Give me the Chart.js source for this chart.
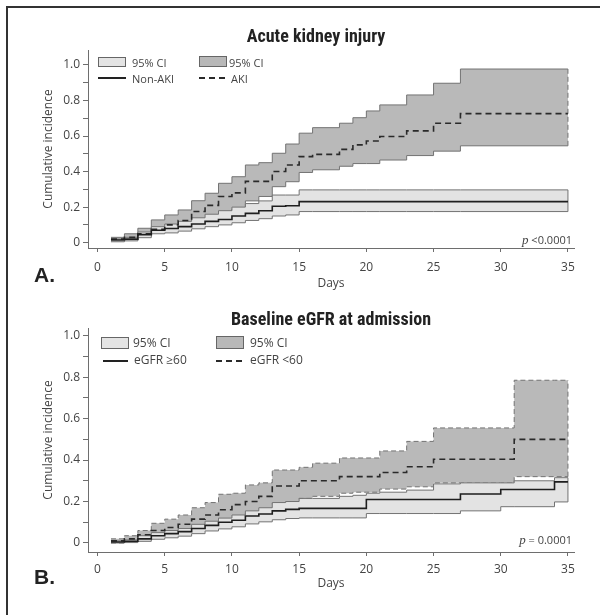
<!DOCTYPE html>
<html>
<head>
<meta charset="utf-8">
<script src="https://cdn.jsdelivr.net/npm/chart.js@4.4.1/dist/chart.umd.min.js"></script>
<style>
  html, body { margin: 0; padding: 0; background: #fff; }
  #page { position: relative; width: 600px; height: 615px; overflow: hidden;
          font-family: 'Open Sans', 'DejaVu Sans', sans-serif; color: #444; }
  .frame-top  { position: absolute; left: 6px; top: 6px; width: 594px; height: 2px; background: #333; }
  .frame-left { position: absolute; left: 6px; top: 6px; width: 2px; height: 609px; background: #333; }
  .cv { position: absolute; left: 0; }
  .ttl { position: absolute; transform: translate(-50%, -50%); white-space: nowrap;
         font-family: 'Liberation Sans Narrow', 'Roboto Condensed', 'Liberation Sans', sans-serif;
         font-weight: bold; font-size: 18px; color: #222; }
  .lbl { position: absolute; transform: translateY(-50%); white-space: nowrap; font-size: 11px; color: #444; line-height: 1; }
  .box { position: absolute; box-sizing: border-box; border: 1px solid #666; }
  .ln  { position: absolute; height: 2px; background: #222; }
  .ln.dash { background: repeating-linear-gradient(90deg, #2a2a2a 0 6px, transparent 6px 10px); }
  .pv  { position: absolute; transform: translate(-100%, -50%); white-space: nowrap; font-size: 11px; color: #444; line-height: 1; }
  .pv i { font-family: 'Liberation Serif', serif; font-size: 13px; }
  .let { position: absolute; transform: translateY(-50%); font-family: 'Liberation Sans', sans-serif;
         font-weight: bold; font-size: 21px; color: #222; line-height: 1; }
</style>
</head>
<body>
<div id="page">
  <div class="frame-top"></div>
  <div class="frame-left"></div>

  <canvas id="cA" class="cv" width="600" height="300" style="top:0"></canvas>
  <canvas id="cB" class="cv" width="600" height="315" style="top:300px"></canvas>

  <!-- painel A -->
  <div class="ttl" style="left:316px; top:35px">Acute kidney injury</div>
  <div class="box" style="left:98px; top:57px; width:28px; height:10px; background:#e4e4e4"></div>
  <div class="lbl" style="left:132px; top:62px">95% CI</div>
  <div class="box" style="left:199px; top:56px; width:28px; height:11px; background:#b8b8b8"></div>
  <div class="lbl" style="left:229px; top:62px">95% CI</div>
  <div class="ln"  style="left:98px; top:77px; width:28px"></div>
  <div class="lbl" style="left:132px; top:78px">Non-AKI</div>
  <div class="ln dash" style="left:199px; top:77px; width:26px"></div>
  <div class="lbl" style="left:231px; top:78px">AKI</div>
  <div class="pv"  style="left:572px; top:239px"><i>p</i> &lt;0.0001</div>
  <div class="let" style="left:34px; top:274px">A.</div>

  <!-- painel B -->
  <div class="ttl" style="left:331px; top:318px">Baseline eGFR at admission</div>
  <div class="box" style="left:101px; top:337px; width:28px; height:12px; background:#e4e4e4"></div>
  <div class="lbl" style="left:133px; top:343px; font-size:12px">95% CI</div>
  <div class="box" style="left:216px; top:336px; width:28px; height:13px; background:#b8b8b8"></div>
  <div class="lbl" style="left:250px; top:343px; font-size:12px">95% CI</div>
  <div class="ln"  style="left:103px; top:360px; width:25px"></div>
  <div class="lbl" style="left:134px; top:360px; font-size:12px">eGFR ≥60</div>
  <div class="ln dash" style="left:216px; top:360px; width:26px"></div>
  <div class="lbl" style="left:250px; top:360px; font-size:12px">eGFR &lt;60</div>
  <div class="pv"  style="left:572px; top:539px"><i>p</i> = 0.0001</div>
  <div class="let" style="left:34px; top:576px">B.</div>
</div>

<script>
/* ── DADOS: PAINEL A (Acute kidney injury) ── */
const daysA      = [1, 2, 3, 4, 5, 6, 7, 8, 9, 10, 11, 12, 13, 14, 15, 16, 18, 19, 20, 21, 23, 25, 27, 35];
const akiUpper   = [0.03, 0.05, 0.081, 0.128, 0.156, 0.184, 0.236, 0.278, 0.334, 0.371, 0.437, 0.45, 0.503, 0.555, 0.616, 0.647, 0.672, 0.703, 0.741, 0.775, 0.831, 0.897, 0.977, 0.977];
const akiMean    = [0.02, 0.03, 0.05, 0.075, 0.1, 0.125, 0.175, 0.21, 0.26, 0.28, 0.345, 0.345, 0.4, 0.437, 0.484, 0.497, 0.525, 0.55, 0.572, 0.597, 0.629, 0.672, 0.726, 0.726];
const akiLower   = [0.008, 0.015, 0.035, 0.06, 0.075, 0.09, 0.115, 0.135, 0.165, 0.19, 0.235, 0.26, 0.315, 0.343, 0.395, 0.41, 0.43, 0.445, 0.445, 0.465, 0.49, 0.515, 0.545, 0.545];
const nonAkiUpper = [0.02, 0.03, 0.06, 0.09, 0.105, 0.12, 0.14, 0.16, 0.18, 0.2, 0.22, 0.235, 0.268, 0.268, 0.297, 0.297, 0.297, 0.297, 0.297, 0.297, 0.297, 0.297, 0.297, 0.297];
const nonAkiMean  = [0.015, 0.02, 0.045, 0.07, 0.08, 0.09, 0.105, 0.12, 0.13, 0.15, 0.165, 0.18, 0.205, 0.208, 0.231, 0.231, 0.231, 0.231, 0.231, 0.231, 0.231, 0.231, 0.231, 0.231];
const nonAkiLower = [0.005, 0.01, 0.028, 0.05, 0.055, 0.065, 0.078, 0.09, 0.1, 0.112, 0.125, 0.135, 0.15, 0.156, 0.175, 0.175, 0.175, 0.175, 0.175, 0.175, 0.175, 0.175, 0.175, 0.175];

/* ── DADOS: PAINEL B (Baseline eGFR at admission) ── */
const daysB       = [1, 2, 3, 4, 5, 6, 7, 8, 9, 10, 11, 12, 13, 14, 15, 16, 18, 19, 20, 21, 23, 25, 27, 30, 31, 34, 35];
const lowGfrUpper = [0.02, 0.035, 0.06, 0.095, 0.115, 0.135, 0.17, 0.195, 0.235, 0.24, 0.28, 0.29, 0.352, 0.352, 0.365, 0.385, 0.41, 0.41, 0.41, 0.444, 0.49, 0.555, 0.555, 0.555, 0.785, 0.785, 0.785];
const lowGfrMean  = [0.01, 0.02, 0.04, 0.06, 0.075, 0.09, 0.115, 0.135, 0.16, 0.185, 0.2, 0.225, 0.275, 0.275, 0.3, 0.3, 0.32, 0.32, 0.32, 0.34, 0.368, 0.404, 0.404, 0.404, 0.5, 0.5, 0.5];
const lowGfrLower = [0.0, 0.005, 0.015, 0.03, 0.045, 0.055, 0.07, 0.085, 0.105, 0.12, 0.145, 0.16, 0.19, 0.2, 0.215, 0.225, 0.24, 0.245, 0.245, 0.26, 0.271, 0.29, 0.29, 0.29, 0.32, 0.32, 0.32];
const hiGfrUpper  = [0.01, 0.015, 0.035, 0.05, 0.06, 0.07, 0.09, 0.105, 0.12, 0.135, 0.155, 0.17, 0.195, 0.2, 0.215, 0.215, 0.225, 0.23, 0.24, 0.245, 0.255, 0.285, 0.29, 0.29, 0.3, 0.315, 0.315];
const hiGfrMean   = [0.005, 0.008, 0.02, 0.035, 0.045, 0.055, 0.07, 0.085, 0.1, 0.11, 0.13, 0.14, 0.155, 0.162, 0.167, 0.167, 0.167, 0.167, 0.21, 0.21, 0.21, 0.21, 0.236, 0.258, 0.258, 0.295, 0.295];
const hiGfrLower  = [0.0, 0.002, 0.008, 0.018, 0.025, 0.033, 0.045, 0.058, 0.068, 0.078, 0.092, 0.102, 0.112, 0.118, 0.121, 0.121, 0.121, 0.121, 0.142, 0.142, 0.142, 0.142, 0.155, 0.175, 0.175, 0.198, 0.198];

/* ── EIXOS ── */
const xTicks = [0, 5, 10, 15, 20, 25, 30, 35];
const yTicks = [0, 0.1, 0.2, 0.3, 0.4, 0.5, 0.6, 0.7, 0.8, 0.9, 1.0];

/* ── HELPERS ── */
const pts  = (days, vals) => days.map((d, i) => ({ x: d, y: vals[i] }));
const last = arr => arr[arr.length - 1];
const edge = (days, lo, hi) => [{ x: last(days), y: last(lo) }, { x: last(days), y: last(hi) }];

const DARK_FILL  = "#b9b9b9";
const LIGHT_FILL = "#e3e3e3";
const EDGE_COLOR = "#737373";
const AXIS_COLOR = "#6e6e6e";
const TEXT_COLOR = "#444";

function montarPainel(canvasId, p) {
  const base = { stepped: true, pointRadius: 0, borderWidth: 1, fill: false };

  const datasets = [
    // 0-1: banda escura (grupo de maior risco)
    { ...base, data: pts(p.days, p.darkUp), borderColor: EDGE_COLOR, borderDash: p.darkDash, order: 2 },
    { ...base, data: pts(p.days, p.darkLo), borderColor: EDGE_COLOR, borderDash: p.darkDash, order: 2,
      fill: { target: 0 }, backgroundColor: DARK_FILL },
    // 2-3: banda clara
    { ...base, data: pts(p.days, p.lightUp), borderColor: EDGE_COLOR, order: 1 },
    { ...base, data: pts(p.days, p.lightLo), borderColor: EDGE_COLOR, order: 1,
      fill: { target: 2 }, backgroundColor: LIGHT_FILL },
    // bordas verticais no fim (dia 35)
    { ...base, stepped: false, data: edge(p.days, p.darkLo, p.darkUp), borderColor: EDGE_COLOR, borderDash: [5, 3], order: 0.5 },
    { ...base, stepped: false, data: edge(p.days, p.lightLo, p.lightUp), borderColor: EDGE_COLOR, order: 0.5 },
    // estimativas
    { ...base, data: pts(p.days, p.lightMean), borderColor: "#1e1e1e", borderWidth: 1.6, order: 0 },
    { ...base, data: pts(p.days, p.darkMean), borderColor: "#2a2a2a", borderWidth: 1.6, borderDash: [6, 4], order: 0 }
  ];

  new Chart(document.getElementById(canvasId), {
    type: "line",
    data: { datasets },
    options: {
      responsive: false,
      animation: false,
      events: [],
      layout: { padding: { top: p.padTop, right: 26, left: 0, bottom: 0 } },
      plugins: { legend: { display: false }, tooltip: { enabled: false }, title: { display: false } },
      scales: {
        x: {
          type: "linear", min: -0.71, max: 35.45,
          afterBuildTicks: s => { s.ticks = xTicks.map(v => ({ value: v })); },
          afterFit: s => { s.height = p.xHeight; },
          ticks: { autoSkip: false, maxRotation: 0, color: TEXT_COLOR, padding: p.xPad,
                   font: { family: "'Open Sans', sans-serif", size: 12 }, callback: v => String(v) },
          grid: { drawOnChartArea: false, drawTicks: true, tickLength: 4, color: AXIS_COLOR },
          border: { display: true, color: AXIS_COLOR, width: 1 },
          title: { display: true, text: "Days", color: TEXT_COLOR,
                   font: { family: "'Open Sans', sans-serif", size: 12 }, padding: { top: 0, bottom: p.daysPad } }
        },
        y: {
          type: "linear", min: p.yMin, max: p.yMax,
          afterBuildTicks: s => { s.ticks = yTicks.map(v => ({ value: v })); },
          afterFit: s => { s.width = 88; },
          ticks: { autoSkip: false, color: TEXT_COLOR, padding: 3,
                   font: { family: "'Open Sans', sans-serif", size: 12 },
                   callback: v => v === 0 ? "0" : (Math.round(v * 10) % 2 === 0 ? v.toFixed(1) : "") },
          grid: { drawOnChartArea: false, drawTicks: true, tickLength: 5, color: AXIS_COLOR },
          border: { display: true, color: AXIS_COLOR, width: 1 },
          title: { display: true, text: "Cumulative incidence", color: TEXT_COLOR,
                   font: { family: "'Open Sans', sans-serif", size: 12 }, padding: { top: 41, bottom: 0 } }
        }
      }
    }
  });
}

document.addEventListener("DOMContentLoaded", () => {
  montarPainel("cA", {
    days: daysA,
    darkUp: akiUpper, darkMean: akiMean, darkLo: akiLower, darkDash: [],
    lightUp: nonAkiUpper, lightMean: nonAkiMean, lightLo: nonAkiLower,
    padTop: 50, xHeight: 52, xPad: 8, daysPad: 9, yMin: -0.03, yMax: 1.084
  });
  montarPainel("cB", {
    days: daysB,
    darkUp: lowGfrUpper, darkMean: lowGfrMean, darkLo: lowGfrLower, darkDash: [5, 3],
    lightUp: hiGfrUpper, lightMean: hiGfrMean, lightLo: hiGfrLower,
    padTop: 28, xHeight: 63, xPad: 6, daysPad: 24, yMin: -0.0435, yMax: 1.037
  });
});
</script>
</body>
</html>
